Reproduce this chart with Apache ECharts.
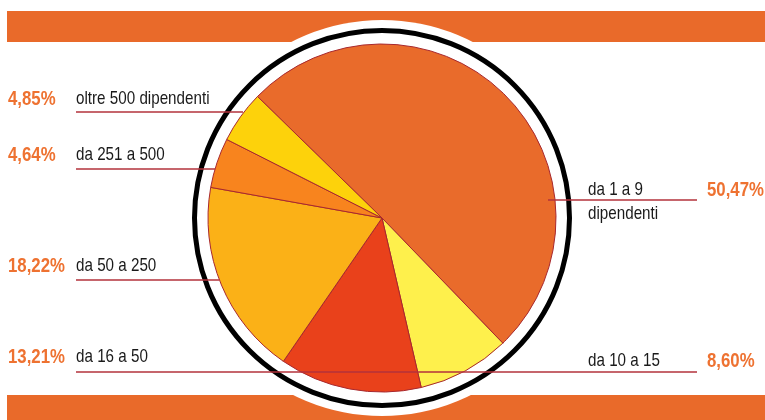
<!DOCTYPE html>
<html>
<head>
<meta charset="utf-8">
<script src="https://cdn.jsdelivr.net/npm/echarts@6/dist/echarts.min.js"></script>
<style>
html,body{margin:0;padding:0;background:#fff;}
#chart{width:765px;height:420px;}
</style>
</head>
<body>
<div id="chart"></div>
<script>
// ---- data ----
var categories = ['da 1 a 9\ndipendenti', 'da 10 a 15', 'da 16 a 50', 'da 50 a 250', 'da 251 a 500', 'oltre 500 dipendenti'];
var values = [50.47, 8.60, 13.21, 18.22, 4.64, 4.85];
var sliceColors = ['#E96B2B', '#FEF04C', '#E9411B', '#FBB117', '#F8841E', '#FDD20B'];

// ---- layout (label placement) ----
var CX = 382, CY = 218, R = 174;
var labelLayout = [
  {side: 'right', textY: 190, lineY: 200, x1: 548, x2: 697},
  {side: 'right', textY: 361, lineY: 372, x1: 382, x2: 697},
  {side: 'left',  textY: 357, lineY: 372, x1: 76,  x2: 382},
  {side: 'left',  textY: 266, lineY: 280, x1: 76,  x2: 219},
  {side: 'left',  textY: 155, lineY: 169, x1: 76,  x2: 215},
  {side: 'left',  textY: 99,  lineY: 112, x1: 76,  x2: 243}
];

var FONT = "'Liberation Sans', Arial, sans-serif";
var ORANGE = '#E96A2A';
var PCT = '#EE7231';
var LINE = '#B3323B';

function fmt(v){ return v.toFixed(2).replace('.', ',') + '%'; }

var graphics = [
  {type:'rect', z:0, z2:0, shape:{x:7, y:11, width:758, height:31}, style:{fill:ORANGE}},
  {type:'rect', z:0, z2:0, shape:{x:7, y:395, width:758, height:25}, style:{fill:ORANGE}},
  {type:'circle', z:0, z2:1, shape:{cx:CX, cy:CY, r:198}, style:{fill:'#ffffff'}},
  {type:'circle', z:0, z2:2, shape:{cx:CX, cy:CY, r:187.5}, style:{fill:null, stroke:'#000', lineWidth:5}}
];

categories.forEach(function(name, i){
  var L = labelLayout[i];
  graphics.push({type:'line', z:10, shape:{x1:L.x1, y1:L.lineY, x2:L.x2, y2:L.lineY},
    style:{stroke:LINE, lineWidth:1.5}});
  var nameX = L.side === 'left' ? 76 : 588;
  var pctX = L.side === 'left' ? 8 : 707;
  graphics.push({type:'text', z:11, x:nameX, y:L.textY - 12, scaleX:0.8,
    style:{text:name, font:'19px ' + FONT, fill:'#1a1a1a', align:'left', verticalAlign:'top', lineHeight:24}});
  graphics.push({type:'text', z:11, x:pctX, y:L.textY, scaleX:0.84,
    style:{text:fmt(values[i]), font:'bold 20px ' + FONT, fill:PCT, align:'left', verticalAlign:'middle'}});
});

var chart = echarts.init(document.getElementById('chart'), null, {renderer:'canvas'});
chart.setOption({
  animation: false,
  backgroundColor: '#ffffff',
  graphic: graphics,
  series: [{
    type: 'pie',
    z: 5,
    center: [CX, CY],
    radius: [0, R],
    startAngle: 135.7,
    clockwise: true,
    avoidLabelOverlap: false,
    label: {show: false},
    labelLine: {show: false},
    itemStyle: {borderColor: '#A8282E', borderWidth: 1},
    emphasis: {disabled: true},
    data: categories.map(function(c, i){
      return {name: c, value: values[i], itemStyle: {color: sliceColors[i]}};
    })
  }]
});
</script>
</body>
</html>
